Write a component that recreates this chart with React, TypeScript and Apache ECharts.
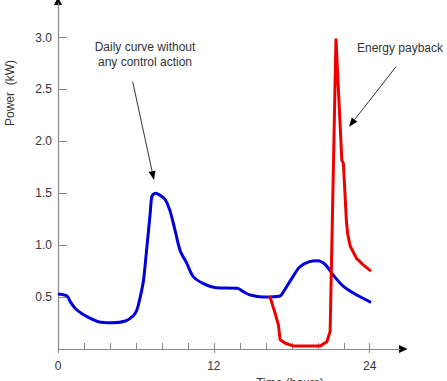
import React, { useEffect, useRef } from "react";
import * as echarts from "echarts";

const blueHours = [0, 0.7, 0.95, 1.33, 1.85, 2.35, 3.1, 4.15, 5.2, 5.8, 6.07, 6.33, 6.58, 6.85, 7.1, 7.23, 7.48, 7.87, 8.25, 8.6, 9.0, 9.4, 9.9, 10.4, 11.2, 12.2, 13.8, 14.3, 14.8, 15.8, 17.1, 17.35, 18.1, 18.6, 19.3, 20.0, 20.6, 21.2, 22.0, 23.0, 24.1];
const blueKW = [0.53, 0.51, 0.455, 0.39, 0.34, 0.305, 0.263, 0.253, 0.27, 0.32, 0.375, 0.5, 0.66, 0.99, 1.31, 1.47, 1.5, 1.48, 1.44, 1.34, 1.15, 0.95, 0.83, 0.7, 0.63, 0.59, 0.585, 0.55, 0.52, 0.5, 0.51, 0.55, 0.7, 0.79, 0.84, 0.85, 0.81, 0.71, 0.6, 0.52, 0.45];

const redHours = [16.3, 16.7, 16.97, 17.1, 17.5, 18.1, 20.2, 20.7, 20.95, 21.4, 21.85, 21.97, 22.2, 22.3, 22.5, 23.0, 23.5, 24.1];
const redKW = [0.51, 0.35, 0.23, 0.09, 0.055, 0.03, 0.03, 0.07, 0.17, 2.99, 1.82, 1.79, 1.24, 1.11, 0.99, 0.87, 0.81, 0.75];

const xMinorTicks = [0, 2, 4, 6, 8, 10, 12, 14, 16, 18, 20, 22, 24];
const xLabels = [0, 12, 24];
const yTicks = [0.5, 1.0, 1.5, 2.0, 2.5, 3.0];

const FONT = "Liberation Sans, Arial, sans-serif";

export default function App() {
  const ref = useRef<HTMLDivElement>(null);
  useEffect(() => {
    if (!ref.current) return;
    const chart = echarts.init(ref.current, undefined, { renderer: "svg" });
    const blue = blueHours.map((h, i) => [h, blueKW[i]]);
    const red = redHours.map((h, i) => [h, redKW[i]]);
    chart.setOption({
      animation: false,
      backgroundColor: "#ffffff",
      textStyle: { fontFamily: FONT },
      grid: { left: 58, right: 47, top: 3, bottom: 32 },
      xAxis: [
        {
          type: "value",
          min: 0,
          max: 26.33,
          interval: 2,
          position: "bottom",
          splitLine: { show: false },
          axisLine: { show: true, lineStyle: { color: "#888888", width: 1.2 } },
          axisTick: { show: true, inside: true, length: 6, customValues: xMinorTicks, lineStyle: { color: "#888888" } },
          axisLabel: { show: true, customValues: xLabels, margin: 11, color: "#333333", fontSize: 12, fontFamily: FONT },
        },
        {
          type: "value",
          min: 0,
          max: 26.33,
          interval: 2,
          position: "bottom",
          splitLine: { show: false },
          axisLine: { show: false },
          axisTick: { show: true, inside: false, length: 4, customValues: xLabels, lineStyle: { color: "#888888" } },
          axisLabel: { show: false },
        },
      ],
      yAxis: {
        type: "value",
        min: 0,
        max: 3.333,
        interval: 0.5,
        splitLine: { show: false },
        axisLine: { show: true, lineStyle: { color: "#888888", width: 1.2 } },
        axisTick: { show: true, inside: true, length: 9, customValues: yTicks, lineStyle: { color: "#888888" } },
        axisLabel: {
          show: true,
          customValues: yTicks,
          margin: 6,
          color: "#333333",
          fontSize: 12,
          fontFamily: FONT,
          formatter: (v: number) => v.toFixed(1),
        },
      },
      series: [
        {
          type: "line",
          data: blue,
          showSymbol: false,
          smooth: 0.3,
          lineStyle: { color: "#0000dd", width: 3 },
          z: 2,
        },
        {
          type: "line",
          data: red,
          showSymbol: false,
          smooth: false,
          lineStyle: { color: "#ee0000", width: 3 },
          z: 3,
        },
      ],
      graphic: [
        { type: "polygon", shape: { points: [[54, 5], [62, 5], [58, -3]] }, style: { fill: "#000" } },
        { type: "polygon", shape: { points: [[399, 345], [399, 353], [407.5, 349]] }, style: { fill: "#000" } },
        {
          type: "text",
          x: 145,
          y: 47,
          style: { text: "Daily curve without", font: `12px ${FONT}`, fill: "#333333", align: "center", verticalAlign: "middle" },
        },
        {
          type: "text",
          x: 145,
          y: 62,
          style: { text: "any control action", font: `12px ${FONT}`, fill: "#333333", align: "center", verticalAlign: "middle" },
        },
        {
          type: "text",
          x: 400,
          y: 47.5,
          style: { text: "Energy payback", font: `12px ${FONT}`, fill: "#333333", align: "center", verticalAlign: "middle" },
        },
        { type: "line", shape: { x1: 132.7, y1: 81.7, x2: 152.1, y2: 171.2 }, style: { stroke: "#333", lineWidth: 1 } },
        { type: "polygon", shape: { points: [[155.5, 170.5], [148.7, 172.0], [154, 180]] }, style: { fill: "#000" } },
        { type: "line", shape: { x1: 396, y1: 66.7, x2: 354.6, y2: 119.6 }, style: { stroke: "#333", lineWidth: 1 } },
        { type: "polygon", shape: { points: [[357.3, 121.8], [351.8, 117.5], [349, 126.7]] }, style: { fill: "#000" } },
        {
          type: "text",
          x: 9.5,
          y: 93,
          rotation: Math.PI / 2,
          style: { text: "Power  (kW)", font: `12px ${FONT}`, fill: "#333333", align: "center", verticalAlign: "middle" },
        },
        {
          type: "text",
          x: 290,
          y: 377,
          style: { text: "Time (hours)", font: `12px ${FONT}`, fill: "#333333", align: "center", verticalAlign: "top" },
        },
      ],
    });
    return () => chart.dispose();
  }, []);
  return <div ref={ref} style={{ width: 447, height: 381, position: "absolute", left: 0, top: 0 }} />;
}
